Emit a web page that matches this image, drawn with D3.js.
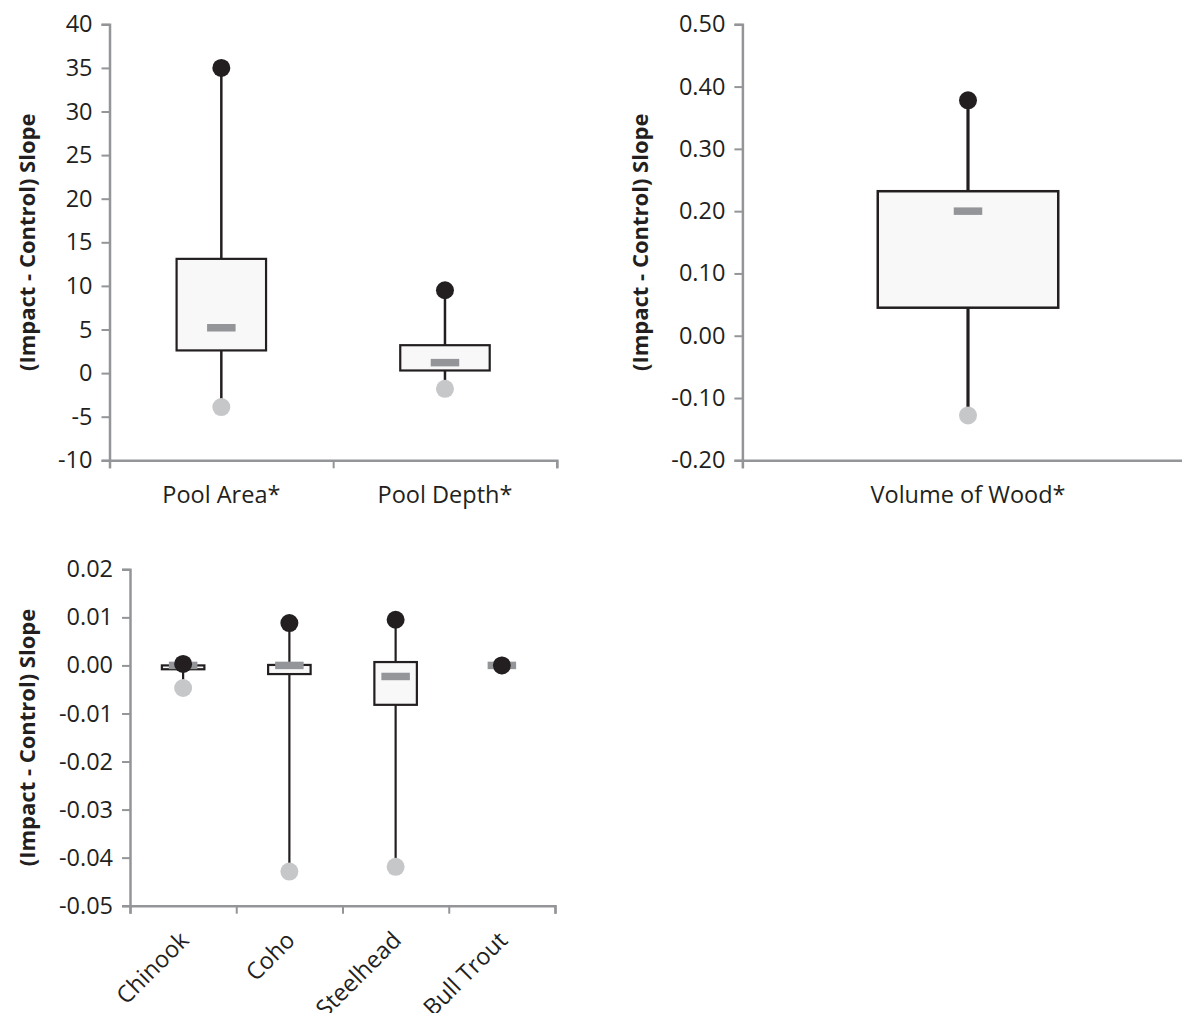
<!DOCTYPE html>
<html>
<head>
<meta charset="utf-8">
<script src="https://cdn.jsdelivr.net/npm/d3@7"></script>
<style>
  body { margin: 0; background: #fff; }
  svg { display: block; font-family: "Open Sans", sans-serif; }
  .tick text { fill: #231f20; font-family: "Open Sans", sans-serif; font-size: 23.5px; }
  .ylabel { fill: #231f20; font-family: "Open Sans", sans-serif; font-size: 22px; font-weight: bold; }
</style>
</head>
<body>
<svg id="chart" width="1182" height="1013"></svg>
<script>
// Habitat panel (top left)
const habitatCats = ['Pool Area*', 'Pool Depth*'];
const habitatMax = [35.0, 9.5];
const habitatQ3 = [13.1, 3.2];
const habitatMed = [5.2, 1.2];
const habitatQ1 = [2.6, 0.3];
const habitatMin = [-3.9, -1.8];
const habitatTicks = [-10, -5, 0, 5, 10, 15, 20, 25, 30, 35, 40];

// Wood panel (top right)
const woodCats = ['Volume of Wood*'];
const woodMax = [0.378];
const woodQ3 = [0.232];
const woodMed = [0.200];
const woodQ1 = [0.045];
const woodMin = [-0.128];
const woodTicks = [-0.20, -0.10, 0.00, 0.10, 0.20, 0.30, 0.40, 0.50];

// Fish panel (bottom)
const fishCats = ['Chinook', 'Coho', 'Steelhead', 'Bull Trout'];
const fishMax = [0.0003, 0.0088, 0.0095, 0.0000];
const fishQ3 = [0.0000, 0.0001, 0.0007, 0.0000];
const fishMed = [0.0000, 0.0000, -0.0023, 0.0000];
const fishQ1 = [-0.0008, -0.0018, -0.0082, 0.0000];
const fishMin = [-0.0047, -0.0429, -0.0419, 0.0000];
const fishTicks = [-0.05, -0.04, -0.03, -0.02, -0.01, 0.00, 0.01, 0.02];

const dark = '#231f20';
const axisGrey = '#939598';
const locale = d3.formatLocale({decimal: '.', thousands: ',', grouping: [3], currency: ['', ''], minus: '-'});

const svg = d3.select('#chart');

function panel(opts) {
	const {cats, max, q3, med, q1, min, ticks, fmt, x0, x1, y0, y1, labelX, whisker, boxStroke, rotate} = opts;
	const rows = cats.map((c, i) => ({c, max: max[i], q3: q3[i], med: med[i], q1: q1[i], min: min[i]}));

	const y = d3.scaleLinear().domain([ticks[0], ticks[ticks.length - 1]]).range([y0, y1]);
	const x = d3.scaleBand().domain(cats).range([x0, x1]);
	const edges = d3.scaleLinear().domain([0, cats.length]).range([x0, x1]);
	const g = svg.append('g');

	// y axis
	const yAxis = g.append('g')
		.attr('transform', `translate(${x0},0)`)
		.call(d3.axisLeft(y).tickValues(ticks).tickFormat(fmt).tickSizeOuter(0).tickSize(8).tickPadding(9));
	yAxis.select('.domain').attr('stroke', axisGrey).attr('stroke-width', 2.5);
	yAxis.selectAll('.tick line').attr('stroke', axisGrey).attr('stroke-width', 2);

	// x axis: ticks on category edges
	const xAxis = g.append('g')
		.attr('transform', `translate(0,${y0})`)
		.call(d3.axisBottom(edges).tickValues(d3.range(cats.length + 1)).tickFormat('').tickSizeOuter(0).tickSize(8));
	xAxis.select('.domain').attr('stroke', axisGrey).attr('stroke-width', 2.5);
	xAxis.selectAll('.tick line').attr('stroke', axisGrey).attr('stroke-width', 2);

	// category labels
	const catAxis = g.append('g')
		.attr('transform', `translate(0,${y0})`)
		.call(d3.axisBottom(x).tickSize(0).tickPadding(26));
	catAxis.select('.domain').remove();
	if (rotate) {
		catAxis.selectAll('.tick text')
			.attr('y', 0).attr('dy', 0)
			.attr('transform', 'translate(7,36) rotate(-45)')
			.style('text-anchor', 'end');
	}

	// y label
	g.append('text')
		.attr('class', 'ylabel')
		.attr('transform', `translate(${labelX},${(y0 + y1) / 2}) rotate(-90)`)
		.attr('text-anchor', 'middle')
		.attr('dominant-baseline', 'central')
		.text('(Impact - Control) Slope');

	const bw = x.bandwidth() * 0.4;
	const cx = d => x(d.c) + x.bandwidth() / 2;
	const marks = g.append('g');

	// whiskers
	marks.selectAll('.wu').data(rows).join('line')
		.attr('x1', cx).attr('x2', cx)
		.attr('y1', d => y(d.max)).attr('y2', d => y(d.q3))
		.attr('stroke', dark).attr('stroke-width', whisker);
	marks.selectAll('.wl').data(rows).join('line')
		.attr('x1', cx).attr('x2', cx)
		.attr('y1', d => y(d.q1)).attr('y2', d => y(d.min))
		.attr('stroke', dark).attr('stroke-width', whisker);

	// boxes
	marks.selectAll('.box').data(rows).join('rect')
		.attr('x', d => cx(d) - bw / 2)
		.attr('width', bw)
		.attr('y', d => y(d.q3))
		.attr('height', d => y(d.q1) - y(d.q3))
		.attr('fill', '#f8f8f8')
		.attr('stroke', dark).attr('stroke-width', boxStroke);

	// medians
	marks.selectAll('.med').data(rows).join('rect')
		.attr('x', d => cx(d) - 14.25)
		.attr('width', 28.5)
		.attr('y', d => y(d.med) - 3.75)
		.attr('height', 7.5)
		.attr('fill', axisGrey);

	// min / max points
	marks.selectAll('.mn').data(rows).join('circle')
		.attr('cx', cx).attr('cy', d => y(d.min)).attr('r', 9)
		.attr('fill', '#c6c7c9');
	marks.selectAll('.mx').data(rows).join('circle')
		.attr('cx', cx).attr('cy', d => y(d.max)).attr('r', 9)
		.attr('fill', dark);
}

panel({cats: habitatCats, max: habitatMax, q3: habitatQ3, med: habitatMed, q1: habitatQ1, min: habitatMin,
	ticks: habitatTicks, fmt: locale.format('d'), x0: 109.5, x1: 556.8, y0: 460.3, y1: 24.3, labelX: 26,
	whisker: 2.5, boxStroke: 2.2});

panel({cats: woodCats, max: woodMax, q3: woodQ3, med: woodMed, q1: woodQ1, min: woodMin,
	ticks: woodTicks, fmt: locale.format('.2f'), x0: 742.4, x1: 1193.6, y0: 460.3, y1: 24.3, labelX: 639,
	whisker: 3.2, boxStroke: 2.5});

panel({cats: fishCats, max: fishMax, q3: fishQ3, med: fishMed, q1: fishQ1, min: fishMin,
	ticks: fishTicks, fmt: locale.format('.2f'), x0: 130, x1: 555, y0: 905.7, y1: 569.3, labelX: 26,
	whisker: 2.2, boxStroke: 2.2, rotate: true});
</script>
</body>
</html>
